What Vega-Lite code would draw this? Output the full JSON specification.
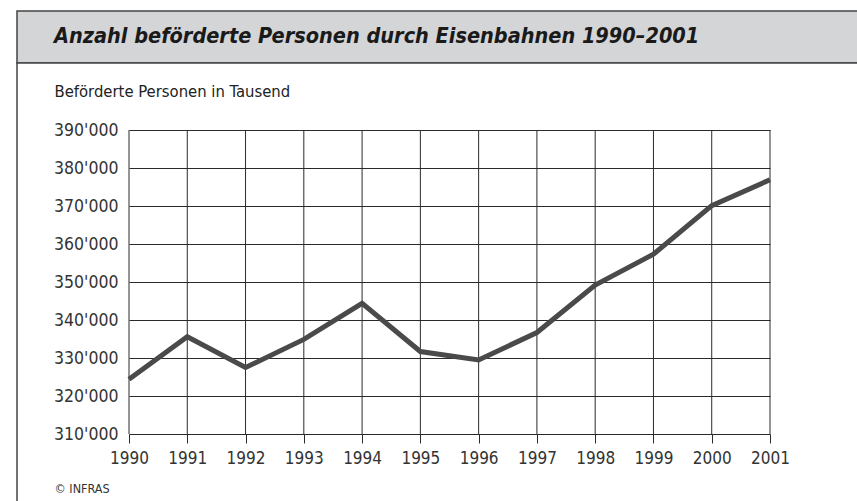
{
  "$schema": "https://vega.github.io/schema/vega-lite/v6.json",
  "padding": {"left": 16, "top": 10, "right": -4, "bottom": 0},
  "background": "white",
  "spacing": 0,
  "bounds": "flush",
  "config": {
    "font": "Liberation Sans Narrow, DejaVu Sans Condensed, sans-serif"
  },
  "vconcat": [
    {
      "width": 843,
      "height": 52,
      "view": {"fill": "#d4d5d7", "stroke": "#444444", "strokeWidth": 1.5},
      "data": {"values": [{"t": "Anzahl beförderte Personen durch Eisenbahnen 1990–2001"}]},
      "mark": {
        "type": "text",
        "align": "left",
        "baseline": "middle",
        "dx": -384.5,
        "font": "Liberation Sans Narrow, DejaVu Sans Condensed, sans-serif",
        "fontSize": 21.5,
        "fontWeight": "bold",
        "fontStyle": "italic",
        "color": "#1a1a1a"
      },
      "encoding": {"text": {"field": "t"}}
    },
    {
      "width": 843,
      "height": 450,
      "view": {"fill": "white", "stroke": "#444444", "strokeWidth": 1.5},
      "data": {
        "values": [
          {"Jahr": 1990, "Personen": 324400},
          {"Jahr": 1991, "Personen": 335600},
          {"Jahr": 1992, "Personen": 327500},
          {"Jahr": 1993, "Personen": 334900},
          {"Jahr": 1994, "Personen": 344400},
          {"Jahr": 1995, "Personen": 331700},
          {"Jahr": 1996, "Personen": 329500},
          {"Jahr": 1997, "Personen": 336700},
          {"Jahr": 1998, "Personen": 349200},
          {"Jahr": 1999, "Personen": 357300},
          {"Jahr": 2000, "Personen": 370100},
          {"Jahr": 2001, "Personen": 376900}
        ]
      },
      "layer": [
        {
          "mark": {"type": "rule", "color": "#2a2a2a", "strokeWidth": 1},
          "encoding": {
            "x": {"field": "Jahr", "type": "quantitative"},
            "y": {"datum": 310000, "type": "quantitative"},
            "y2": {"datum": 390000}
          }
        },
        {
          "mark": {"type": "line", "color": "#4a4a4a", "strokeWidth": 5},
          "encoding": {
            "x": {
              "field": "Jahr",
              "type": "quantitative",
              "scale": {"domain": [1990, 2001], "range": [112, 753], "nice": false, "zero": false},
              "axis": {
                "offset": -79,
                "values": [1990, 1991, 1992, 1993, 1994, 1995, 1996, 1997, 1998, 1999, 2000, 2001],
                "format": "d",
                "domain": false,
                "grid": false,
                "ticks": true,
                "tickSize": 9,
                "tickColor": "#2a2a2a",
                "tickWidth": 1,
                "labelFontSize": 17,
                "labelColor": "#333333",
                "labelPadding": 7,
                "labelFlush": false,
                "labelOverlap": false,
                "labelBound": false,
                "title": "© INFRAS",
                "titleX": 37,
                "titleY": 58,
                "titleAlign": "left",
                "titleAnchor": null,
                "titleBaseline": "alphabetic",
                "titleFontSize": 12.5,
                "titleFontWeight": "normal",
                "titleColor": "#333333"
              }
            },
            "y": {
              "field": "Personen",
              "type": "quantitative",
              "scale": {"domain": [310000, 390000], "range": [371, 67], "nice": false, "zero": false},
              "axis": {
                "offset": -112,
                "values": [310000, 320000, 330000, 340000, 350000, 360000, 370000, 380000, 390000],
                "labelExpr": "replace(format(datum.value, ','), ',', \"'\")",
                "domain": false,
                "ticks": false,
                "tickSize": 0,
                "grid": true,
                "gridColor": "#2a2a2a",
                "gridWidth": 1,
                "labelFontSize": 17.5,
                "labelColor": "#333333",
                "labelPadding": 11,
                "labelFlush": false,
                "labelOverlap": false,
                "labelBound": false,
                "title": "Beförderte Personen in Tausend",
                "titleAngle": 0,
                "titleX": -75,
                "titleY": 33,
                "titleAlign": "left",
                "titleAnchor": null,
                "titleBaseline": "alphabetic",
                "titleFontSize": 16.5,
                "titleFontWeight": "normal",
                "titleColor": "#222222"
              }
            }
          }
        }
      ]
    }
  ]
}
